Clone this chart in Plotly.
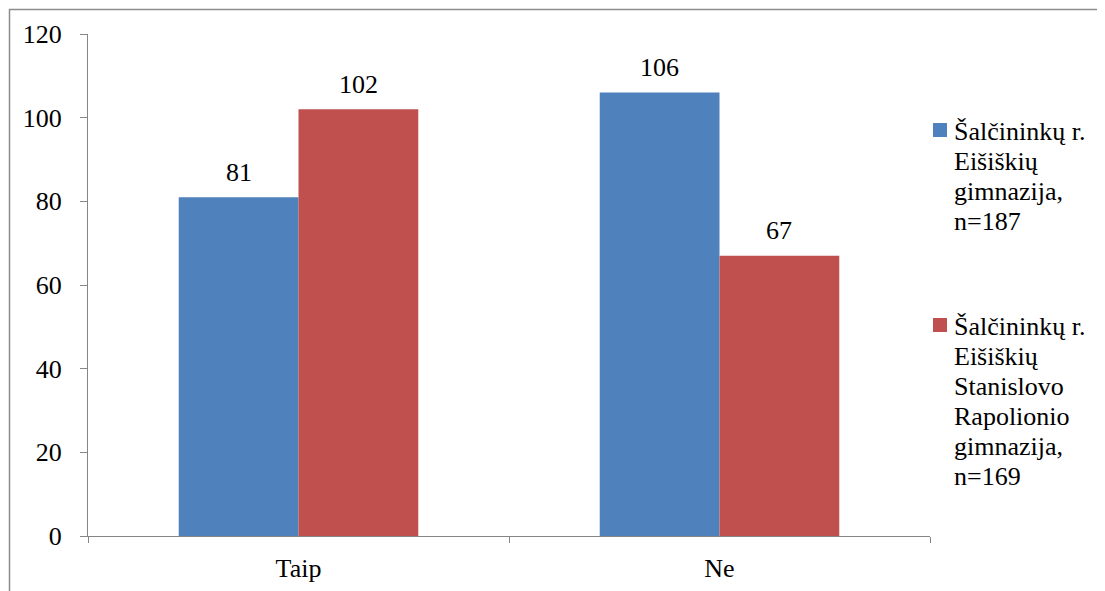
import plotly.graph_objects as go

categories = ["Taip", "Ne"]
series_names = [
    "Šalčininkų r.<br>Eišiškių<br>gimnazija,<br>n=187",
    "Šalčininkų r.<br>Eišiškių<br>Stanislovo<br>Rapolionio<br>gimnazija,<br>n=169",
]
series_values = [
    [81, 106],
    [102, 67],
]
series_colors = ["#4F81BD", "#C0504D"]
y_ticks = [0, 20, 40, 60, 80, 100, 120]

FONT = "Liberation Serif"
FS = 26

# figure geometry (page has an 8px body margin)
W, H = 1097, 583
L, T, R, B = 80, 26, 175, 55
pw = W - L - R
ph = H - T - B
BARGAP = 0.431


def px_x(fx):
    return (fx - L) / pw


def px_y(fy):
    return (H - B - fy) / ph


fig = go.Figure()
for name, vals, col in zip(series_names, series_values, series_colors):
    fig.add_trace(go.Bar(
        x=categories, y=vals, name=name,
        marker=dict(color=col, line=dict(width=0)),
        showlegend=False,
    ))

# data labels above bars
n_series = len(series_values)
bar_w = (1 - BARGAP) / n_series
for si, vals in enumerate(series_values):
    off = -(1 - BARGAP) / 2 + bar_w * (si + 0.5)
    for ci, v in enumerate(vals):
        fig.add_annotation(
            x=ci + off, y=v, xref="x", yref="y", text=str(v),
            showarrow=False, xanchor="center", yanchor="middle",
            yshift=25, font=dict(family=FONT, size=FS, color="black"),
        )

# manual legend (marker aligned with first text line, 30px line spacing)
legend_tops = [115, 310]
LINE = 30
for name, col, top in zip(series_names, series_colors, legend_tops):
    fig.add_shape(
        type="rect", xref="paper", yref="paper",
        x0=px_x(925), x1=px_x(939), y0=px_y(top + 14), y1=px_y(top),
        line=dict(width=0), fillcolor=col,
    )
    for li, line in enumerate(name.split("<br>")):
        baseline = top + 17 + li * LINE
        fig.add_annotation(
            x=px_x(944), y=px_y(baseline - 8.8), xref="paper", yref="paper",
            text=line, showarrow=False, xanchor="left", yanchor="middle",
            font=dict(family=FONT, size=FS, color="black"),
        )

fig.update_layout(
    width=W, height=H,
    margin=dict(l=L, r=R, t=T, b=B, pad=0, autoexpand=False),
    paper_bgcolor="white", plot_bgcolor="white",
    barmode="group", bargap=BARGAP, bargroupgap=0,
    font=dict(family=FONT, size=FS, color="black"),
    showlegend=False,
    xaxis=dict(
        automargin=False,
        showline=True, linecolor="#868686", linewidth=1,
        ticks="outside", ticklen=6, tickcolor="#868686", tickson="boundaries",
        showgrid=False, zeroline=False,
        tickfont=dict(family=FONT, size=FS, color="black"),
        ticklabelstandoff=9,
    ),
    yaxis=dict(
        automargin=False,
        range=[0, 120], tickvals=y_ticks,
        showline=True, linecolor="#868686", linewidth=1,
        ticks="outside", ticklen=7, tickcolor="#868686",
        showgrid=False, zeroline=False,
        tickfont=dict(family=FONT, size=FS, color="black"),
        ticklabelstandoff=13,
    ),
)

# outer chart border (only top and left edges visible in the crop)
fig.add_shape(
    type="rect", xref="paper", yref="paper",
    x0=px_x(1.5), x1=1.4, y0=-0.3, y1=px_y(1.5),
    line=dict(color="#8c8c8c", width=1.5), fillcolor="rgba(0,0,0,0)",
    layer="below",
)

fig.write_html("out.html")
